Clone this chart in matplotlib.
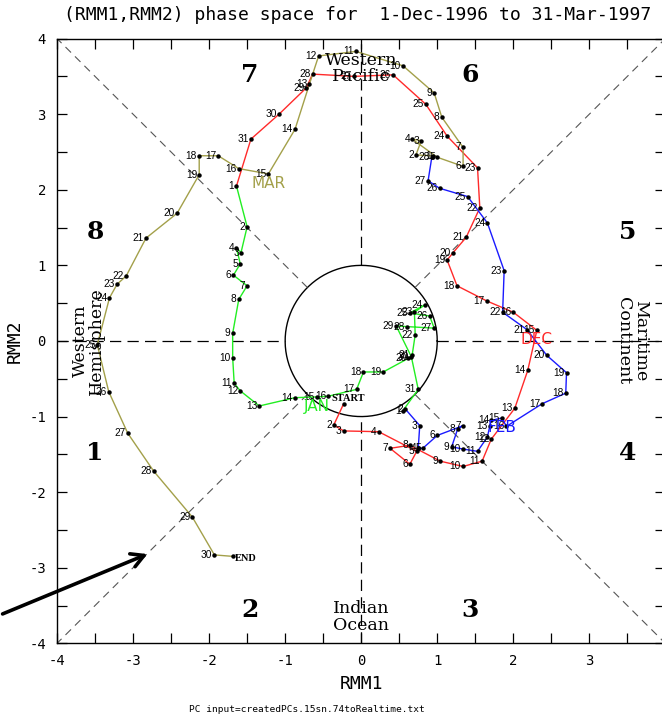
import matplotlib
matplotlib.use('Agg')
import matplotlib.pyplot as plt
import numpy as np

# daily RMM1 / RMM2 values, 1-Dec-1996 .. 31-Mar-1997
dec_rmm1 = [-0.23, -0.36, -0.23, 0.23, 0.73, 0.64, 0.38, 0.64, 1.04, 1.34, 1.59, 1.71, 2.02, 2.19, 2.31, 2.00,
            1.65, 1.26, 1.13, 1.21, 1.38, 1.56, 1.53, 1.13, 0.85, 0.42, -0.10, -0.64, -0.72, -1.08, -1.45]
dec_rmm2 = [-0.83, -1.11, -1.19, -1.20, -1.46, -1.63, -1.42, -1.38, -1.59, -1.66, -1.59, -1.30, -0.89, -0.39, 0.14, 0.38,
            0.53, 0.73, 1.07, 1.17, 1.37, 1.76, 2.29, 2.71, 3.13, 3.52, 3.50, 3.53, 3.35, 3.00, 2.67]

jan_rmm1 = [-1.64, -1.50, -1.58, -1.64, -1.59, -1.68, -1.50, -1.61, -1.69, -1.69, -1.67, -1.59, -1.34, -0.87, -0.58, -0.43,
            -0.06, 0.03, 0.29, 0.62, 0.67, 0.71, 0.70, 0.84, 0.64, 0.90, 0.96, 0.60, 0.46, 0.66, 0.75]
jan_rmm2 = [2.05, 1.51, 1.17, 1.23, 1.02, 0.87, 0.73, 0.55, 0.10, -0.22, -0.56, -0.66, -0.86, -0.75, -0.74, -0.73,
            -0.64, -0.41, -0.41, -0.23, -0.19, 0.08, 0.38, 0.48, 0.37, 0.33, 0.17, 0.19, 0.20, -0.21, -0.64]

feb_rmm1 = [0.55, 0.58, 0.77, 0.75, 0.81, 1.00, 1.34, 1.27, 1.19, 1.34, 1.53, 1.66, 1.69, 1.71, 1.85, 1.91,
            2.38, 2.69, 2.70, 2.44, 2.18, 1.86, 1.88, 1.66, 1.40, 1.03, 0.88, 0.93]
feb_rmm2 = [-0.92, -0.90, -1.12, -1.42, -1.42, -1.25, -1.12, -1.16, -1.40, -1.43, -1.46, -1.27, -1.13, -1.05, -1.02, -1.13,
            -0.83, -0.69, -0.42, -0.19, 0.15, 0.38, 0.93, 1.56, 1.91, 2.02, 2.12, 2.44]

mar_rmm1 = [0.95, 0.72, 0.79, 0.67, 1.00, 1.34, 1.34, 1.06, 0.96, 0.55, -0.07, -0.56, -0.68, -0.87, -1.22, -1.61,
            -1.88, -2.13, -2.13, -2.42, -2.83, -3.09, -3.21, -3.31, -3.47, -3.32, -3.07, -2.73, -2.22, -1.93, -1.68]
mar_rmm2 = [2.45, 2.46, 2.65, 2.67, 2.43, 2.31, 2.56, 2.96, 3.28, 3.64, 3.83, 3.77, 3.40, 2.80, 2.21, 2.28,
            2.45, 2.45, 2.20, 1.69, 1.36, 0.86, 0.75, 0.57, -0.05, -0.67, -1.22, -1.72, -2.33, -2.83, -2.85]

month_names = ['DEC', 'JAN', 'FEB', 'MAR']
month_colors = ['#ff2a2a', '#22ee22', '#1a1aff', '#a3a04a']

months = [(dec_rmm1, dec_rmm2), (jan_rmm1, jan_rmm2), (feb_rmm1, feb_rmm2), (mar_rmm1, mar_rmm2)]

fig = plt.figure(figsize=(6.62, 7.17), dpi=100)
ax = fig.add_axes([0.0861, 0.1027, 0.919, 0.8435])
ax.set_xlim(-4, 4)
ax.set_ylim(-4, 4)

# phase-space guides: unit circle plus dashed axes/diagonals outside it
r = 1.0
th = np.linspace(0, 2 * np.pi, 300)
ax.plot(r * np.cos(th), r * np.sin(th), color='black', lw=1.0)
ax.plot([-4, -r], [0, 0], color='black', lw=0.9, dashes=(9, 5))
ax.plot([r, 4], [0, 0], color='black', lw=0.9, dashes=(9, 5))
ax.plot([0, 0], [-4, -r], color='black', lw=0.9, dashes=(9, 5))
ax.plot([0, 0], [r, 4], color='black', lw=0.9, dashes=(9, 5))
d = r / np.sqrt(2)
for sx, sy in [(1, 1), (-1, 1), (-1, -1), (1, -1)]:
    ax.plot([sx * d, sx * 4], [sy * d, sy * 4], color='#555555', lw=0.8, dashes=(7, 5))

# one line per month, each running on to the first day of the next month
last = len(months) - 1
for i, (xs, ys) in enumerate(months):
    px, py = list(xs), list(ys)
    if i < last:
        px.append(months[i + 1][0][0])
        py.append(months[i + 1][1][0])
    ax.plot(px, py, color=month_colors[i], lw=1.0, zorder=3)
    ax.plot(xs, ys, 'o', color='black', ms=2.2, zorder=4)
    for day, (x, y) in enumerate(zip(xs, ys), start=1):
        # first and last day get START / END instead of a number
        if (i == 0 and day == 1) or (i == last and day == len(xs)):
            continue
        ax.annotate(str(day), (x, y), xytext=(-1.5, 0), textcoords='offset points',
                    ha='right', va='center', fontsize=7.3, family='Liberation Sans', zorder=5)
    ax.annotate(month_names[i], (xs[14], ys[14]), xytext=(0, -1.5), textcoords='offset points',
                ha='center', va='top', fontsize=11, color=month_colors[i], zorder=5)

ax.annotate('START', (dec_rmm1[0], dec_rmm2[0]), xytext=(-9, 4), textcoords='offset points',
            ha='left', va='center', fontsize=7.5, family='Liberation Serif', weight='bold')
ax.annotate('END', (mar_rmm1[-1], mar_rmm2[-1]), xytext=(1, -1.5), textcoords='offset points',
            ha='left', va='center', fontsize=7.5, family='Liberation Serif', weight='bold')

# phase numbers
phase_pos = {1: (-3.5, -1.48), 2: (-1.46, -3.56), 3: (1.43, -3.56), 4: (3.5, -1.48),
             5: (3.5, 1.44), 6: (1.43, 3.52), 7: (-1.46, 3.52), 8: (-3.5, 1.44)}
for k, (x, y) in phase_pos.items():
    ax.text(x, y, str(k), ha='center', va='center', fontsize=18, family='DejaVu Serif', weight='bold')

region_kw = dict(ha='center', va='center', fontsize=12.5, family='DejaVu Serif', linespacing=0.95)
ax.text(0, 3.6, 'Western\nPacific', **region_kw)
ax.text(0, -3.65, 'Indian\nOcean', **region_kw)
ax.text(-3.59, 0, 'Western\nHemisphere', rotation=90, **region_kw)
ax.text(3.56, 0, 'Maritime\nContinent', rotation=270, **region_kw)

ticks = np.arange(-4, 4.01, 0.5)
ax.set_xticks(ticks)
ax.set_yticks(ticks)
ax.set_xticklabels([str(int(v)) if v == int(v) and v < 4 else '' for v in ticks])
ax.set_yticklabels([str(int(v)) if v == int(v) else '' for v in ticks])
ax.tick_params(direction='in', length=7, width=0.9, top=True, right=True, pad=8,
               labelsize=10)
for lab in ax.get_xticklabels() + ax.get_yticklabels():
    lab.set_family('DejaVu Sans Mono')
ax.set_xlabel('RMM1', fontsize=13, family='DejaVu Sans Mono', labelpad=5)
ax.set_ylabel('RMM2', fontsize=13, family='DejaVu Sans Mono', labelpad=4)
for s in ax.spines.values():
    s.set_linewidth(1.0)

fig.text(64 / 662, 1 - 15 / 717, '(RMM1,RMM2) phase space for  1-Dec-1996 to 31-Mar-1997',
         ha='left', va='center', fontsize=13.0, family='DejaVu Sans Mono')
fig.text(307 / 662, 1 - 710 / 717, 'PC input=createdPCs.15sn.74toRealtime.txt',
         ha='center', va='center', fontsize=6.8, family='DejaVu Sans Mono')

# pointer to the phase 1/2 boundary
fig.patches.append(matplotlib.patches.FancyArrowPatch(
    (0.0, 1 - 615 / 717), (150 / 662, 1 - 553 / 717), transform=fig.transFigure,
    arrowstyle='->,head_length=9,head_width=5', lw=2.6, color='black', mutation_scale=1))

fig.savefig('out.png', dpi=100, facecolor='white')
